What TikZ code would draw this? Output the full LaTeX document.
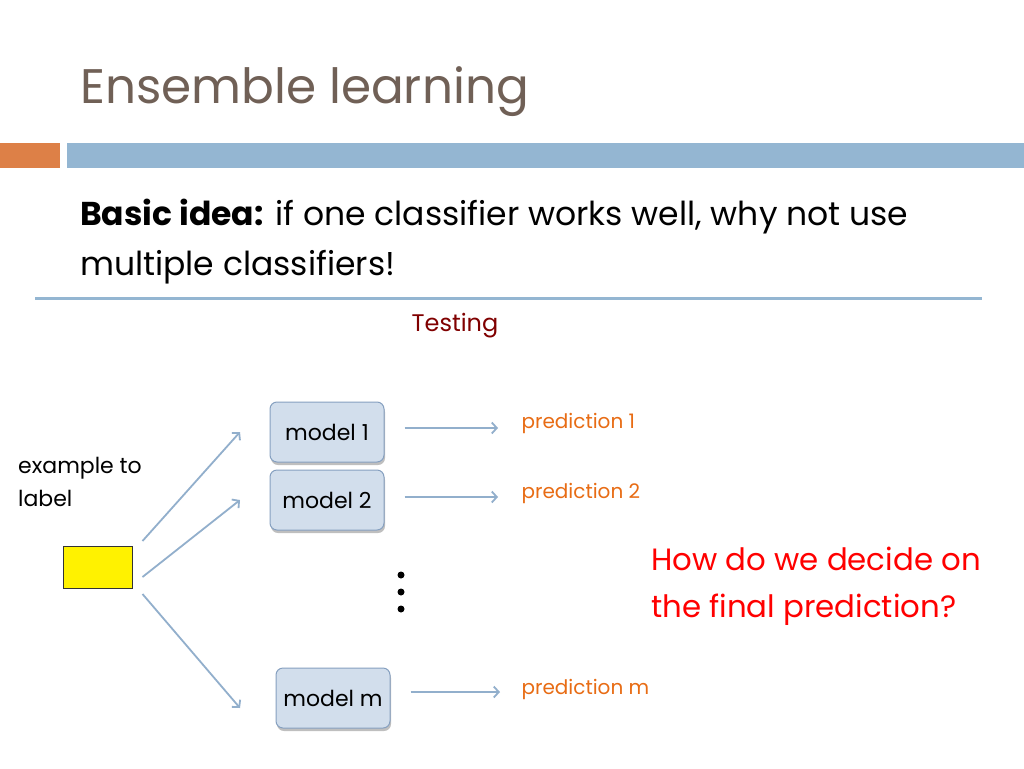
\documentclass[tikz,border=0pt]{standalone}
\usepackage{fontspec}
\setmainfont[Ligatures=NoCommon]{Poppins}
\usetikzlibrary{shadows,arrows.meta}
\definecolor{titlegray}{RGB}{112,96,86}
\definecolor{barorange}{RGB}{221,128,71}
\definecolor{barblue}{RGB}{148,182,210}
\definecolor{arrowblue}{RGB}{146,175,204}
\definecolor{boxfill}{RGB}{210,222,236}
\definecolor{boxline}{RGB}{134,160,192}
\definecolor{predorange}{RGB}{232,108,20}
\definecolor{testred}{RGB}{128,0,0}
\begin{document}
\begin{tikzpicture}[x=1pt, y=-1pt, >={Straight Barb[length=5pt,width=11pt]},
	modelbox/.style={draw=boxline, fill=boxfill, rounded corners=7pt, line width=1pt,
		minimum width=114pt, minimum height=60pt, font=\fontsize{22}{26}\selectfont,
		drop shadow={shadow xshift=1pt, shadow yshift=-3pt, opacity=0.5}},
	predlabel/.style={anchor=west, text=predorange, font=\fontsize{20}{24}\selectfont},
	flow/.style={->, draw=arrowblue, line width=1.8pt}]
				% 1. 画布与标题栏
				\useasboundingbox (0,0) rectangle (1024,768);
				\fill[white] (0,0) rectangle (1024,768);
				\node[anchor=base west, inner sep=0pt, text=titlegray, font=\fontsize{48.5}{56}\selectfont] (title) at (80,103) {Ensemble learning};
				\fill[barorange] (0,143) rectangle (60,168);
				\fill[barblue] (67,143) rectangle (1024,168);
				
				% 2. 正文与分隔线（多行节点的 base 取最后一行）
				\node[anchor=base west, inner sep=0pt, font=\fontsize{33}{50}\selectfont, align=left] (idea) at (80,275)
					{\textbf{Basic idea:} if one classifier works well, why not use\\multiple classifiers!};
				\draw[barblue, line width=3pt] (35,298) -- (982,298);
				\node[text=testred, font=\fontsize{24}{28}\selectfont] (testing) at (455,326) {Testing};
				
				% 3. 输入样本
				\node[anchor=base west, inner sep=0pt, font=\fontsize{22}{33}\selectfont, align=left] (exlabel) at (18,506) {example to\\label};
				\node[draw=black!80, fill=yellow, line width=1pt, minimum width=69pt, minimum height=42pt, inner sep=0pt] (ex) at (97.5,567) {};
				
				% 4. 模型与预测
				\node[modelbox] (m1) at (327,432) {model 1};
				\node[modelbox] (m2) at (327,500) {model 2};
				\node[modelbox] (mm) at (333,698) {model m};
				\node[predlabel] (p1) at (518,423) {prediction 1};
				\node[predlabel] (p2) at (518,493) {prediction 2};
				\node[predlabel] (pm) at (518,689) {prediction m};
				\foreach \y in {575,592,609} \fill (401,\y) circle (3.5pt);
				
				% 5. 箭头
				\coordinate (t1) at (240,432);
				\coordinate (t2) at (240,500);
				\coordinate (tm) at (240,708);
				\draw[flow] ([shift={(10,-26)}]ex.east) -- (t1);
				\draw[flow] ([shift={(10,10)}]ex.east) -- (t2);
				\draw[flow] ([shift={(10,27)}]ex.east) -- (tm);
				\draw[flow] ([xshift=20pt]m1.east |- 0,428) -- ([xshift=-20pt]p1.west |- 0,428);
				\draw[flow] ([xshift=20pt]m2.east |- 0,497) -- ([xshift=-20pt]p2.west |- 0,497);
				\draw[flow] ([xshift=20pt]mm.east |- 0,692) -- ([xshift=-18pt]pm.west |- 0,692);
				
				% 6. 问题
				\node[anchor=base west, inner sep=0pt, text=red, font=\fontsize{30.8}{47}\selectfont, align=left] (question) at (651,617)
					{How do we decide on\\the final prediction?};
\end{tikzpicture}
\end{document}
